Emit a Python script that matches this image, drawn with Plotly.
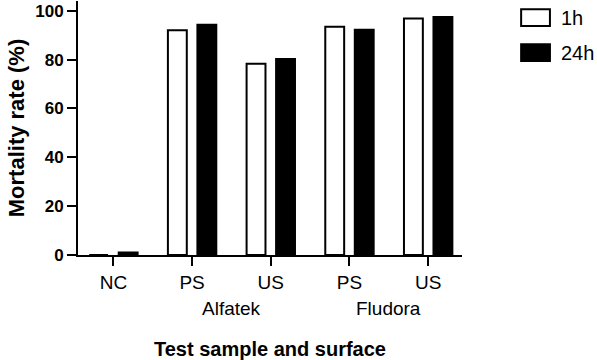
import plotly.graph_objects as go

categories = ["NC", "PS", "US", "PS", "US"]
groups = ["Alfatek", "Fludora"]
group_centers = [1.5, 3.5]
series_names = ["1h", "24h"]
values_1h = [0, 92, 78.3, 93.5, 96.8]
values_24h = [1, 94.3, 80.3, 92.2, 97.5]
yticks = [0, 20, 40, 60, 80, 100]

font = "Liberation Sans, Arial, sans-serif"
x_idx = list(range(len(categories)))
fills = ["white", "black"]

fig = go.Figure()
for name, vals, fc in zip(series_names, [values_1h, values_24h], fills):
    fig.add_trace(go.Bar(x=x_idx, y=vals, name=name, showlegend=False,
                         marker=dict(color=fc, line=dict(color="black", width=2))))

for g, xc in zip(groups, group_centers):
    fig.add_annotation(x=xc, y=0, xref="x", yref="paper", text=g, showarrow=False,
                       yanchor="middle", yshift=-53,
                       font=dict(family=font, size=19, color="black"))

# legend drawn as boxes + labels (paper coordinates)
leg_y = [0.935, 0.797]
for name, fc, ly in zip(series_names, fills, leg_y):
    fig.add_shape(type="rect", xref="paper", yref="paper",
                  x0=1.154, x1=1.229, y0=ly - 0.033, y1=ly + 0.033,
                  fillcolor=fc, line=dict(color="black", width=2))
    fig.add_annotation(x=1.252, y=ly, xref="paper", yref="paper", text=name,
                       showarrow=False, xanchor="left", yanchor="middle",
                       font=dict(family=font, size=20, color="black"))

fig.update_layout(
    width=597, height=360,
    margin=dict(l=78, r=135, t=1, b=105),
    plot_bgcolor="white", paper_bgcolor="white",
    barmode="group", bargap=0.25, bargroupgap=0.36,
    font=dict(family=font, color="black"),
    showlegend=False,
    xaxis=dict(range=[-0.45, 4.43], tickmode="array", tickvals=x_idx, ticktext=categories,
               showline=True, linecolor="black", linewidth=2, ticks="outside", ticklen=9,
               tickwidth=2, tickcolor="black", showgrid=False, zeroline=False,
               tickfont=dict(family=font, size=19, color="black"),
               title=dict(text="<b>Test sample and surface</b>", standoff=50,
                          font=dict(family=font, size=20, color="black"))),
    yaxis=dict(range=[0, 104], tickmode="array", tickvals=yticks,
               ticktext=[f"<b>{v}</b>" for v in yticks],
               showline=True, linecolor="black", linewidth=2, ticks="outside", ticklen=9,
               tickwidth=2, tickcolor="black", showgrid=False, zeroline=False,
               tickfont=dict(family=font, size=17, color="black"),
               title=dict(text="<b>Mortality rate (%)</b>", standoff=5,
                          font=dict(family=font, size=22, color="black"))),
)

fig.write_html("out.html")
